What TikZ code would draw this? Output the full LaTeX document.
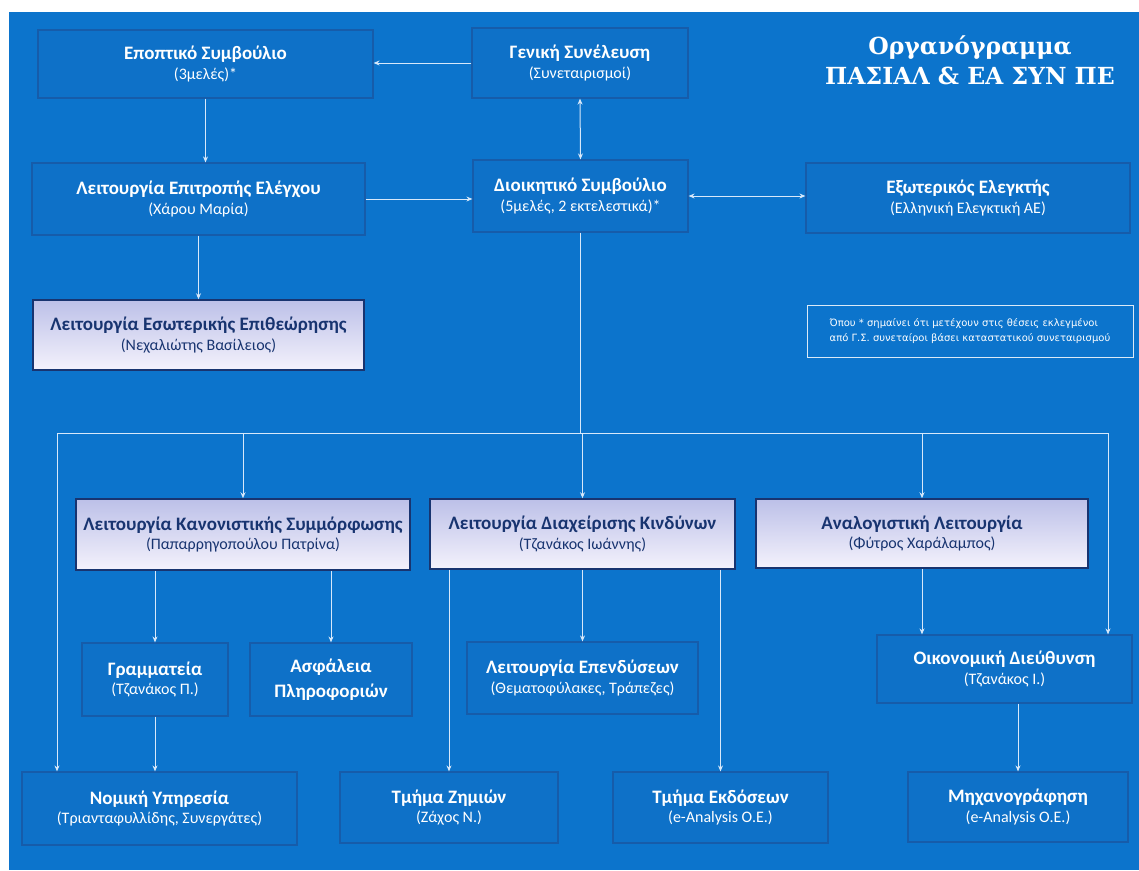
\documentclass[tikz,border=0pt]{standalone}
\usepackage{fontspec}
\setmainfont{Carlito}
\newfontfamily\titlefont{DejaVu Serif}
\newfontfamily\notefont{DejaVu Sans}
\usetikzlibrary{arrows.meta,calc}
\definecolor{bgblue}{RGB}{12,116,204}
\definecolor{boxfill}{RGB}{14,113,200}
\definecolor{boxline}{RGB}{22,92,170}
\definecolor{linecol}{RGB}{215,232,250}
\definecolor{navy}{RGB}{24,52,112}
\definecolor{lav}{RGB}{188,192,232}
\definecolor{lavlow}{RGB}{244,242,252}
\tikzset{
  box/.style={draw=boxline, line width=1.2pt, fill=boxfill, align=center, text=white, inner sep=2pt},
  hibox/.style={draw=navy, line width=1.5pt, top color=lav, bottom color=lavlow, align=center, text=navy, inner sep=2pt},
  notebox/.style={draw=white!85!bgblue, line width=0.8pt, align=left, text=white, inner sep=4pt},
  conn/.style={draw=linecol, line width=1pt},
  arr/.style={conn, -{Stealth[length=6pt,width=5pt]}},
  darr/.style={conn, {Stealth[length=6pt,width=5pt]}-{Stealth[length=6pt,width=5pt]}}
}
\newcommand{\hdt}[2]{{\fontsize{19}{22}\selectfont\bfseries #1}\\[4pt]{\fontsize{16}{19}\selectfont #2}}
\begin{document}
\begin{tikzpicture}[x=1pt,y=-1pt]
\useasboundingbox (0,0) rectangle (1139,870);
\fill[white] (0,0) rectangle (1139,870);
\fill[bgblue] (9,12) rectangle (1139,870);

% title
\node[text=white, align=center, font=\titlefont\fontsize{23.5}{30}\selectfont\bfseries] (title) at (970,60) {Οργανόγραμμα\\ΠΑΣΙΑΛ \& ΕΑ ΣΥΝ ΠΕ};

% top level
\node[box, minimum width=335, minimum height=68] (epo) at (205.5,64) {\hdt{Εποπτικό Συμβούλιο}{(3μελές)*}};
\node[box, minimum width=216, minimum height=70] (gen) at (580,63) {\hdt{Γενική Συνέλευση}{(Συνεταιρισμοί)}};
\node[box, minimum width=333, minimum height=72] (ele) at (198.5,199) {\hdt{Λειτουργία Επιτροπής Ελέγχου}{(Χάρου Μαρία)}};
\node[box, minimum width=215, minimum height=72] (dio) at (580.5,196) {\hdt{Διοικητικό Συμβούλιο}{(5μελές, 2 εκτελεστικά)*}};
\node[box, minimum width=324, minimum height=70] (ext) at (968,198) {\hdt{Εξωτερικός Ελεγκτής}{(Ελληνική Ελεγκτική ΑΕ)}};
\node[hibox, minimum width=331, minimum height=70] (esw) at (198.5,335) {\hdt{Λειτουργία Εσωτερικής Επιθεώρησης}{(Νεχαλιώτης Βασίλειος)}};
\node[notebox, minimum width=326, minimum height=52, font=\notefont\fontsize{10}{15}\selectfont] (note) at (970,331) {Όπου * σημαίνει ότι μετέχουν στις θέσεις εκλεγμένοι\\από Γ.Σ. συνεταίροι βάσει καταστατικού συνεταιρισμού};

% second level
\node[hibox, minimum width=334, minimum height=71] (kan) at (243,534.5) {\hdt{Λειτουργία Κανονιστικής Συμμόρφωσης}{(Παπαρρηγοπούλου Πατρίνα)}};
\node[hibox, minimum width=305, minimum height=70] (kin) at (582.5,534) {\hdt{Λειτουργία Διαχείρισης Κινδύνων}{(Τζανάκος Ιωάννης)}};
\node[hibox, minimum width=332, minimum height=69] (ana) at (922,533.5) {\hdt{Αναλογιστική Λειτουργία}{(Φύτρος Χαράλαμπος)}};

% third level
\node[box, minimum width=146, minimum height=73] (gra) at (155,679.5) {\hdt{Γραμματεία}{(Τζανάκος Π.)}};
\node[box, minimum width=162, minimum height=73, font=\fontsize{19}{25}\selectfont\bfseries] (asf) at (331,679.5) {Ασφάλεια\\Πληροφοριών};
\node[box, minimum width=231, minimum height=72] (epe) at (582.5,678) {\hdt{Λειτουργία Επενδύσεων}{(Θεματοφύλακες, Τράπεζες)}};
\node[box, minimum width=255, minimum height=68] (oik) at (1004.5,669) {\hdt{Οικονομική Διεύθυνση}{(Τζανάκος Ι.)}};

% bottom
\node[box, minimum width=275, minimum height=73] (nom) at (159.5,808.5) {\hdt{Νομική Υπηρεσία}{(Τριανταφυλλίδης, Συνεργάτες)}};
\node[box, minimum width=218, minimum height=71] (zim) at (449,807.5) {\hdt{Τμήμα Ζημιών}{(Ζάχος Ν.)}};
\node[box, minimum width=215, minimum height=71] (ekd) at (720.5,807.5) {\hdt{Τμήμα Εκδόσεων}{(e-Analysis O.E.)}};
\node[box, minimum width=220, minimum height=70] (mix) at (1018,807) {\hdt{Μηχανογράφηση}{(e-Analysis O.E.)}};

% bus
\coordinate (busL) at (57,433);
\coordinate (busR) at (1108,433);

% connectors
\draw[arr] (gen.west) -- (gen.west -| epo.east);
\draw[arr] (epo.south) -- (epo.south |- ele.north);
\draw[arr] (ele.east) -- (ele.east -| dio.west);
\draw[darr] (gen.south) -- (dio.north);
\draw[darr] (dio.east) -- (dio.east -| ext.west);
\draw[arr] (ele.south) -- (esw.north);
\draw[conn] (dio.south) -- (dio.south |- busL);
\draw[conn] (busL) -- (busR);
\draw[arr] (kan.north |- busL) -- (kan.north);
\draw[arr] (kin.north |- busL) -- (kin.north);
\draw[arr] (ana.north |- busL) -- (ana.north);
\draw[arr] (busL) -- (busL |- nom.north);
\draw[arr] (busR) -- (busR |- oik.north);
\draw[arr] (gra.north |- kan.south) -- (gra.north);
\draw[arr] (asf.north |- kan.south) -- (asf.north);
\draw[arr] (kin.south) -- (epe.north);
\draw[arr] (zim.north |- kin.south) -- (zim.north);
\draw[arr] (ekd.north |- kin.south) -- (ekd.north);
\draw[arr] (ana.south) -- (ana.south |- oik.north);
\draw[arr] (gra.south) -- (gra.south |- nom.north);
\draw[arr] (mix.north |- oik.south) -- (mix.north);
\end{tikzpicture}
\end{document}
